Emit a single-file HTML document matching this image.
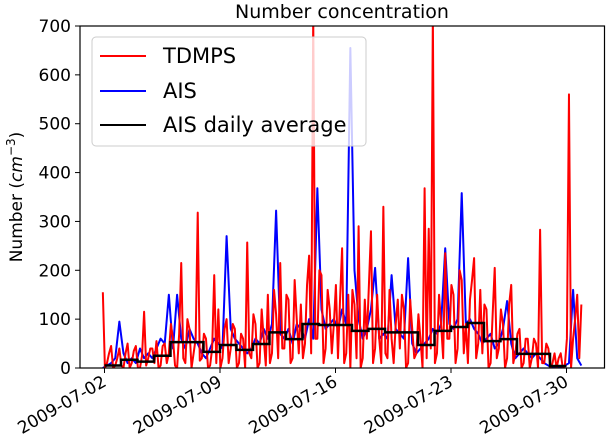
<!DOCTYPE html>
<html><head><meta charset="utf-8"><style>
html,body{margin:0;padding:0;background:#fff;}
svg{display:block;font-family:"DejaVu Sans","Liberation Sans",sans-serif;}
</style></head><body>
<svg id="chart" width="606" height="448" viewBox="0 0 606 448">
<defs><clipPath id="plotclip"><rect x="80" y="26" width="525" height="342"/></clipPath></defs>
<text x="342" y="18" font-size="19" text-anchor="middle">Number concentration</text>
<g id="series" clip-path="url(#plotclip)"></g>
<rect x="80" y="26" width="524.5" height="342" fill="none" stroke="#000" stroke-width="1.2"/>
<g id="axes"></g>
<text transform="translate(22,197) rotate(-90)" font-size="17" text-anchor="middle">Number (<tspan font-style="italic">cm</tspan><tspan dy="-7" font-size="12">−3</tspan><tspan dy="7">)</tspan></text>
<g>
<rect x="92" y="37" width="274" height="109" rx="4" fill="#fff" fill-opacity="0.8" stroke="#ccc" stroke-width="1"/>
<g><line x1="100" y1="56" x2="146" y2="56" stroke="#f00" stroke-width="2"/><text x="163" y="63" font-size="21">TDMPS</text></g>
<g><line x1="100" y1="91" x2="146" y2="91" stroke="#00f" stroke-width="2"/><text x="163" y="98" font-size="21">AIS</text></g>
<g><line x1="100" y1="125" x2="146" y2="125" stroke="#000" stroke-width="2"/><text x="163" y="132" font-size="21">AIS daily average</text></g>
</g>
</svg>
<script>
// TDMPS sampled every 0.125 day, AIS every 0.25 day, both starting at day -0.1 (relative to 2009-07-02)
const tdmps = [155,0,10,30,45,0,5,20, 40,5,0,30,50,0,10,35, 45,0,0,25,115,5,20,40, 40,10,55,0,5,45,50,10,
 30,90,60,5,0,70,215,20, 10,100,80,0,30,60,318,15, 20,70,60,0,5,40,190,10, 120,0,20,80,100,10,40,90,
 80,0,10,70,60,0,257,30, 20,110,90,0,10,120,60,5, 150,10,30,160,110,20,215,40, 40,150,140,10,20,180,100,30,
 130,20,50,170,230,30,720,60, 60,200,190,10,40,160,120,30, 90,170,20,140,245,10,30,150, 0,160,130,20,290,0,20,140,
 60,170,280,10,40,150,60,10, 330,30,20,160,60,10,90,140, 40,150,120,0,10,140,80,20, 30,110,60,0,368,20,285,40,
 720,10,30,150,90,20,235,60, 60,170,150,10,40,200,180,30, 90,10,140,180,225,20,50,160, 30,130,120,0,10,110,205,20,
 40,120,90,0,20,130,170,10, 30,70,80,0,10,60,60,0, 20,60,50,0,283,10,10,50, 40,0,10,30,0,20,30,0,
 5,60,560,0,60,100,150,20,130];
const ais = [0,5,10,20, 95,30,10,20, 10,40,20,30, 20,40,60,50, 150,40,150,60, 40,80,60,50, 30,20,40,60, 50,40,270,80, 60,50,40,30, 40,60,50,80, 60,90,322,70, 60,80,50,90, 80,60,100,60, 368,120,80,90, 100,80,120,90, 655,200,100,60, 80,120,205,60, 70,60,190,80, 70,60,225,50, 30,40,50,60, 80,70,90,245, 90,80,100,358, 90,100,80,70, 50,60,70,40, 50,80,137,50, 20,30,40,30, 20,30,20,10, 5,0,5,0, 5,10,160,20,5];
const aisDaily = [5,17,13,25,53,53,33,47,37,49,73,59,90,88,88,76,80,73,73,47,76,84,92,55,59,29,29,4];
const yTicks = [0,100,200,300,400,500,600,700];
const xTickDays = [0,7,14,21,28];
const xTickLabels = ["2009-07-02","2009-07-09","2009-07-16","2009-07-23","2009-07-30"];
const tdmpsStep = 0.125, aisStep = 0.25, sampleStart = -0.1;

const NS = "http://www.w3.org/2000/svg";
function xs(d){ return 104.5 + 16.5*d; }
function ys(v){ return 368 - v*(342/700); }
function mk(tag, attrs, parent){ const e=document.createElementNS(NS,tag); for(const k in attrs) e.setAttribute(k,attrs[k]); parent.appendChild(e); return e; }

const series = document.getElementById('series');
const axes = document.getElementById('axes');

function linePath(vals, step){
  return vals.map((v,i)=>(i?'L':'M')+xs(sampleStart+i*step).toFixed(2)+','+ys(v).toFixed(2)).join('');
}
const pb = mk('path',{d:linePath(ais,aisStep),fill:'none',stroke:'#00f','stroke-width':2,'stroke-linejoin':'round'},series);


const pr = mk('path',{d:linePath(tdmps,tdmpsStep),fill:'none',stroke:'#f00','stroke-width':2,'stroke-linejoin':'round'},series);



let sd = '';
aisDaily.forEach((v,i)=>{ sd += (i?'L':'M')+xs(i)+','+ys(v).toFixed(2)+'L'+xs(i+1)+','+ys(v).toFixed(2); });
const pk = mk('path',{d:sd,fill:'none',stroke:'#000','stroke-width':2.5},series);



yTicks.forEach(t=>{
  const y=ys(t);
  const l=mk('line',{x1:75,y1:y,x2:80,y2:y,stroke:'#000','stroke-width':1},axes);
  
  
  const tx=mk('text',{x:71,y:y+6,'font-size':17,'text-anchor':'end'},axes);
  tx.textContent=t;
  
  
});
xTickDays.forEach((d,i)=>{
  const x=xs(d);
  const l=mk('line',{x1:x,y1:368,x2:x,y2:373,stroke:'#000','stroke-width':1},axes);
  
  
  const tx=mk('text',{x:0,y:0,'font-size':17,'text-anchor':'end',transform:'translate('+(x+3)+',385) rotate(-30)'},axes);
  tx.textContent=xTickLabels[i];
  
  
});
</script>
</body></html>
